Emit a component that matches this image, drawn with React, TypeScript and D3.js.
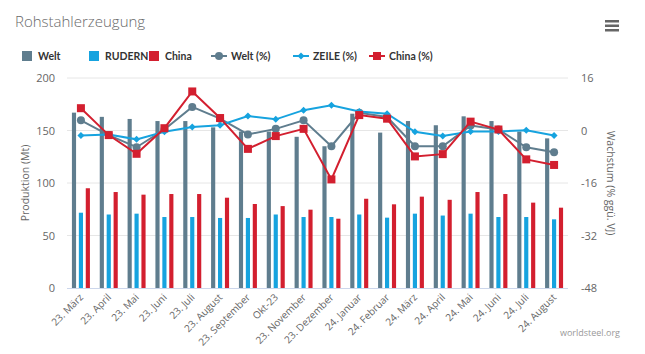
import * as d3 from "d3";

const months = [
  "23. März", "23. April", "23. Mai", "23. Juni", "23. Juli", "23. August",
  "23. September", "Okt-23", "23. November", "23. Dezember", "24. Januar", "24. Februar",
  "24. März", "24. April", "24. Mai", "24. Juni", "24. Juli", "24. August",
];

// production, Mt
const welt = [167, 163, 161, 159, 159, 153, 149, 149, 144, 135, 166, 148, 159, 155, 163.5, 159, 149, 142.5];
const rudern = [71.7, 70, 70.8, 67.6, 67.6, 66.7, 66.7, 70, 67.6, 67.6, 70, 67, 70.8, 69, 70.8, 67.6, 67.6, 65.4];
const china = [95, 91.4, 88.9, 89.5, 89.5, 86, 80, 78, 74.6, 66, 85, 79.7, 87, 84, 91.4, 89.5, 81.3, 76.5];

// growth, % yoy
const weltPct = [3.1, -1.4, -5.1, 0.3, 7.2, 3.6, -1.2, 0.5, 3.1, -4.8, 5.4, 4.1, -4.8, -4.8, 1.5, 0.3, -5.1, -6.6];
const zeilePct = [-1.5, -1.2, -2.7, -0.4, 1.1, 1.6, 4.4, 3.4, 6.2, 7.7, 5.8, 5.1, -0.4, -1.7, -0.3, -0.3, 0.1, -1.5];
const chinaPct = [6.8, -1.4, -7.1, 0.7, 11.9, 3.8, -5.6, -1.7, 0.5, -14.9, 4.7, 3.6, -7.9, -7.2, 2.7, 0.3, -8.8, -10.5];

const leftTicks = [0, 50, 100, 150, 200];
const rightTicks = [-48, -32, -16, 0, 16];

const GREY = "#5f7d8e";
const BLUE = "#16a3df";
const RED = "#d31f2f";
const FONT = "'Open Sans', sans-serif";

const W = 645;
const H = 354;
const PAD = { left: 67, right: 568, top: 78, bottom: 288 };

export default function App() {
  const x = d3.scaleBand<string>().domain(months).range([PAD.left, PAD.right]);
  const xSub = d3.scaleBand<string>().domain(["welt", "rudern", "china"]).range([-9, 9]).paddingInner(0.4);
  const yL = d3.scaleLinear().domain([0, 200]).range([PAD.bottom, PAD.top]);
  const yR = d3.scaleLinear().domain([-48, 16]).range([PAD.bottom, PAD.top]);
  const cx = (m: string) => (x(m) ?? 0) + x.bandwidth() / 2;

  const bars = [
    { key: "welt", values: welt, color: GREY },
    { key: "rudern", values: rudern, color: BLUE },
    { key: "china", values: china, color: RED },
  ];
  const lines = [
    { key: "weltPct", values: weltPct, color: GREY, marker: "circle" },
    { key: "zeilePct", values: zeilePct, color: BLUE, marker: "diamond" },
    { key: "chinaPct", values: chinaPct, color: RED, marker: "square" },
  ];
  const lineGen = d3
    .line<number>()
    .x((_, i) => cx(months[i]))
    .y((v) => yR(v));

  const marker = (kind: string, px: number, py: number, color: string, k: string) => {
    if (kind === "circle") return <circle key={k} cx={px} cy={py} r={4} fill={color} />;
    if (kind === "square") return <rect key={k} x={px - 4} y={py - 4} width={8} height={8} fill={color} />;
    return <path key={k} d={`M${px},${py - 3.5}L${px + 3.5},${py}L${px},${py + 3.5}L${px - 3.5},${py}Z`} fill={color} />;
  };

  const legendBars = [
    { label: "Welt", color: GREY, x: 22 },
    { label: "RUDERN", color: BLUE, x: 89 },
    { label: "China", color: RED, x: 149 },
  ];
  const legendLines = [
    { label: "Welt (%)", color: GREY, marker: "circle", x: 211 },
    { label: "ZEILE (%)", color: BLUE, marker: "diamond", x: 293 },
    { label: "China (%)", color: RED, marker: "square", x: 369 },
  ];

  return (
    <svg width={W} height={H} style={{ position: "absolute", left: 0, top: 0, fontFamily: FONT }}>
      <rect width={W} height={H} fill="#fff" />
      <text x={15} y={27} fontSize={15} fontWeight={300} fill="#6a6a6a">Rohstahlerzeugung</text>
      <g fill="#666">
        {[0, 1, 2].map((i) => (
          <rect key={i} x={605} y={20 + i * 4.5} width={14} height={2.5} />
        ))}
      </g>

      {/* legend */}
      {legendBars.map((d) => (
        <g key={d.label}>
          <rect x={d.x} y={51} width={10} height={10} fill={d.color} />
          <text x={d.x + 16} y={60} fontSize={10.5} fontWeight={700} fill="#333" fontFamily="Lato, sans-serif">{d.label}</text>
        </g>
      ))}
      {legendLines.map((d) => (
        <g key={d.label}>
          <line x1={d.x} x2={d.x + 16} y1={56} y2={56} stroke={d.color} strokeWidth={2} />
          {marker(d.marker, d.x + 8, 56, d.color, "m")}
          <text x={d.x + 20} y={60} fontSize={10.5} fontWeight={700} fill="#333" fontFamily="Lato, sans-serif">{d.label}</text>
        </g>
      ))}

      {/* grid */}
      {leftTicks.map((t) => (
        <g key={t}>
          {t > 0 && <line x1={PAD.left} x2={PAD.right} y1={yL(t)} y2={yL(t)} stroke="#e6e6e6" />}
          <text x={55} y={yL(t) + 4} textAnchor="end" fontSize={11} fill="#666">{t}</text>
        </g>
      ))}
      {rightTicks.map((t) => (
        <text key={t} x={581} y={yR(t) + 4} fontSize={11} fill="#666">{t}</text>
      ))}
      <line x1={PAD.left} x2={PAD.right} y1={PAD.bottom + 0.5} y2={PAD.bottom + 0.5} stroke="#ccd6eb" />

      <text transform={`translate(29,${(PAD.top + PAD.bottom) / 2}) rotate(-90)`} textAnchor="middle" fontSize={10.5} fill="#666">
        Produktion (Mt)
      </text>
      <text transform={`translate(607,${(PAD.top + PAD.bottom) / 2}) rotate(90)`} textAnchor="middle" fontSize={10.5} fill="#666">
        Wachstum (% ggü. VJ)
      </text>

      {/* bars */}
      {bars.map((s) => (
        <g key={s.key} fill={s.color}>
          {s.values.map((v, i) => (
            <rect
              key={i}
              x={cx(months[i]) + (xSub(s.key) ?? 0)}
              y={yL(v)}
              width={xSub.bandwidth()}
              height={yL(0) - yL(v)}
            />
          ))}
        </g>
      ))}

      {/* lines */}
      {lines.map((s) => (
        <g key={s.key}>
          <path d={lineGen(s.values) ?? ""} fill="none" stroke={s.color} strokeWidth={2} />
          {s.values.map((v, i) => marker(s.marker, cx(months[i]), yR(v), s.color, String(i)))}
        </g>
      ))}

      {/* x labels */}
      {months.map((m) => (
        <text key={m} transform={`translate(${cx(m) + 3},${PAD.bottom + 10}) rotate(-45)`} textAnchor="end" fontSize={10} fill="#666">
          {m}
        </text>
      ))}

      <text x={620} y={336} textAnchor="end" fontSize={9} fill="#999">worldsteel.org</text>
    </svg>
  );
}
